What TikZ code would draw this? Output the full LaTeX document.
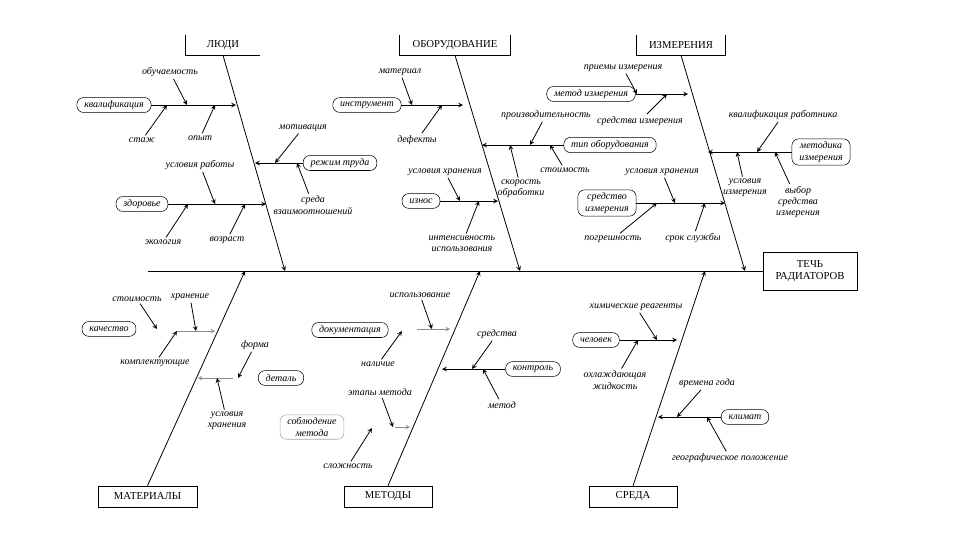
\documentclass[tikz,border=0pt]{standalone}
\usepackage{fontspec}
\setmainfont{Liberation Serif}
\tikzset{%
  bone/.style = {-stealth,line width=0.6pt},
  sub/.style = {-stealth,line width=0.6pt},
  faint/.style = {-stealth,line width=0.5pt,draw=black!45},
  cat/.style = {rectangle,inner sep=0pt,font=\fontsize{8}{9}\selectfont},
  f/.style = {rectangle,draw,rounded corners=5pt,inner xsep=5.5pt,inner ysep=2.2pt,
        minimum height=11pt,font=\fontsize{7.5}{8.5}\selectfont\itshape,align=center},
  l/.style = {inner sep=1.5pt,font=\fontsize{7.5}{8.5}\selectfont\itshape,align=center}
}
\begin{document}
\begin{tikzpicture}[x=0.75pt,y=-0.75pt]
\useasboundingbox (0,0) rectangle (960,540);

\node[cat,minimum width=55.5pt,minimum height=15pt] (ljudi) at (223,45) {ЛЮДИ};
\node[cat,minimum width=82.5pt,minimum height=15pt] (obor) at (455,45) {ОБОРУДОВАНИЕ};
\node[cat,minimum width=66pt,minimum height=15pt] (izm) at (681,45) {ИЗМЕРЕНИЯ};
\draw (ljudi.north west) -- (ljudi.south west) -- (ljudi.south east);
\draw (obor.north west) -- (obor.south west) -- (obor.south east) -- (obor.north east);
\draw (izm.north west) -- (izm.south west) -- (izm.south east) -- (izm.north east);
\node[cat,draw,minimum width=74pt,minimum height=15.75pt] (mat) at (147.5,496.5) {МАТЕРИАЛЫ};
\node[cat,draw,minimum width=66pt,minimum height=15.75pt] (met) at (388,496.5) {МЕТОДЫ};
\node[cat,draw,minimum width=66pt,minimum height=15.75pt] (sre) at (633,496.5) {СРЕДА};
\node[cat,draw,minimum width=70.5pt,minimum height=28.5pt,align=center] (rad) at (810,271) {ТЕЧЬ\\РАДИАТОРОВ};

\coordinate (tail) at (148,271);
\coordinate (s1) at (285,271);
\coordinate (s2) at (520,271);
\coordinate (s3) at (745,271);
\coordinate (s4) at (245,271);
\coordinate (s5) at (480,271);
\coordinate (s6) at (705,271);
\draw[line width=0.6pt] (tail) -- (rad.west);
\draw[bone] (ljudi.south) -- (s1);
\draw[bone] (obor.south) -- (s2);
\draw[bone] (izm.south) -- (s3);
\draw[bone] (mat.north) -- (s4);
\draw[bone] (met.north) -- (s5);
\draw[bone] (sre.north) -- (s6);

\node[f] (kval) at (114,105) {квалификация};
\node[f] (rezhim) at (340,163) {режим труда};
\node[f] (zdor) at (142,204) {здоровье};
\coordinate (b1a) at (236,105);
\coordinate (b1b) at (255,163);
\coordinate (b1c) at (266,204);
\draw[sub] (kval) -- (b1a);
\draw[sub] (rezhim) -- (b1b);
\draw[sub] (zdor) -- (b1c);
\node[l] (obuch) at (170,72) {обучаемость};
\node[l] (stazh) at (142,140) {стаж};
\node[l] (opyt) at (200,138) {опыт};
\node[l] (motiv) at (303,128) {мотивация};
\node[l] (sreda) at (313,205) {среда\\взаимоотношений};
\node[l] (uslrab) at (200,165) {условия работы};
\node[l] (ekol) at (163,242) {экология};
\node[l] (vozr) at (227,240) {возраст};
\coordinate (p1a) at (187,105);
\coordinate (p1b) at (167,105);
\coordinate (p1c) at (215,105);
\coordinate (p1d) at (275,163);
\coordinate (p1e) at (297,163);
\coordinate (p1f) at (215,204);
\coordinate (p1g) at (188,204);
\coordinate (p1h) at (245,204);
\draw[sub] (obuch) -- (p1a);
\draw[sub] (stazh) -- (p1b);
\draw[sub] (opyt) -- (p1c);
\draw[sub] (motiv) -- (p1d);
\draw[sub] (sreda) -- (p1e);
\draw[sub] (uslrab) -- (p1f);
\draw[sub] (ekol) -- (p1g);
\draw[sub] (vozr) -- (p1h);

\node[f] (instr) at (367,105) {инструмент};
\node[f] (tipob) at (610,145) {тип оборудования};
\node[f] (iznos) at (421,201) {износ};
\coordinate (b2a) at (463,105);
\coordinate (b2b) at (482,145);
\coordinate (b2c) at (498,201);
\draw[sub] (instr) -- (b2a);
\draw[sub] (tipob) -- (b2b);
\draw[sub] (iznos) -- (b2c);
\node[l] (mater) at (400,72) {материал};
\node[l] (defekt) at (417,140) {дефекты};
\node[l] (proizv) at (546,115) {производительность};
\node[l] (stoim) at (565,170) {стоимость};
\node[l] (skor) at (521,189) {скорость\\обработки};
\node[l] (uslhr) at (445,172) {условия хранения};
\node[l] (intens) at (462,244) {интенсивность\\использования};
\coordinate (p2a) at (412,105);
\coordinate (p2b) at (442,105);
\coordinate (p2c) at (530,145);
\coordinate (p2d) at (550,145);
\coordinate (p2e) at (510,145);
\coordinate (p2f) at (460,201);
\coordinate (p2g) at (479,201);
\draw[sub] (mater) -- (p2a);
\draw[sub] (defekt) -- (p2b);
\draw[sub] (proizv) -- (p2c);
\draw[sub] (stoim) -- (p2d);
\draw[sub] (skor) -- (p2e);
\draw[sub] (uslhr) -- (p2f);
\draw[sub] (intens) -- (p2g);

\node[f] (metizm) at (591,94) {метод измерения};
\node[f] (metodika) at (821,152) {методика\\измерения};
\node[f] (sredstvo) at (607,203) {средство\\измерения};
\coordinate (b3a) at (688,94);
\coordinate (b3b) at (708,152);
\coordinate (b3c) at (725,203);
\draw[sub] (metizm) -- (b3a);
\draw[sub] (metodika) -- (b3b);
\draw[sub] (sredstvo) -- (b3c);
\node[l] (priem) at (623,68) {приемы измерения};
\node[l] (sredizm) at (640,121) {средства измерения};
\node[l] (kvalrab) at (783,115) {квалификация работника};
\node[l] (uslizm) at (745,188) {условия\\измерения};
\node[l] (vybor) at (798,202) {выбор\\средства\\измерения};
\node[l] (uslhrb) at (662,172) {условия хранения};
\node[l] (pogr) at (613,239) {погрешность};
\node[l] (srok) at (693,238) {срок службы};
\coordinate (p3a) at (637,94);
\coordinate (p3b) at (667,94);
\coordinate (p3c) at (757,152);
\coordinate (p3d) at (737,152);
\coordinate (p3e) at (775,152);
\coordinate (p3f) at (675,203);
\coordinate (p3g) at (657,203);
\coordinate (p3h) at (705,203);
\draw[sub] (priem) -- (p3a);
\draw[sub] (sredizm) -- (p3b);
\draw[sub] (kvalrab) -- (p3c);
\draw[sub] (uslizm) -- (p3d);
\draw[sub] (vybor) -- (p3e);
\draw[sub] (uslhrb) -- (p3f);
\draw[sub] (pogr) -- (p3g);
\draw[sub] (srok) -- (p3h);

\node[f] (kach) at (109,329) {качество};
\node[f] (detal) at (281,378) {деталь};
\coordinate (m4s) at (177,331);
\coordinate (b4a) at (215,331);
\coordinate (m4t) at (233,378);
\coordinate (b4b) at (198,378);
\draw[faint] (m4s) -- (b4a);
\draw[faint] (m4t) -- (b4b);
\node[l] (stoimm) at (137,299) {стоимость};
\node[l] (hran) at (190,297) {хранение};
\node[l] (kompl) at (155,363) {комплектующие};
\node[l] (forma) at (255,345) {форма};
\node[l] (uslhrc) at (227,421) {условия\\хранения};
\coordinate (p4a) at (157,329);
\coordinate (p4b) at (196,331);
\coordinate (p4c) at (177,331);
\coordinate (p4d) at (238,378);
\coordinate (p4e) at (217,378);
\draw[sub] (stoimm) -- (p4a);
\draw[sub] (hran) -- (p4b);
\draw[sub] (kompl) -- (p4c);
\draw[sub] (forma) -- (p4d);
\draw[sub] (uslhrc) -- (p4e);

\node[f] (dokum) at (350,330) {документация};
\node[f] (kontr) at (533,369) {контроль};
\node[f,draw=black!35] (soblyud) at (312,427) {соблюдение\\метода};
\coordinate (m5s) at (417,329);
\coordinate (b5a) at (450,329);
\coordinate (b5b) at (442,369);
\coordinate (m5t) at (395,427);
\coordinate (b5c) at (410,427);
\draw[faint] (m5s) -- (b5a);
\draw[sub] (kontr) -- (b5b);
\draw[faint] (m5t) -- (b5c);
\node[l] (ispol) at (420,295) {использование};
\node[l] (nalich) at (378,364) {наличие};
\node[l] (sredstva) at (497,334) {средства};
\node[l] (metod) at (502,405) {метод};
\node[l] (etapy) at (380,392) {этапы метода};
\node[l] (slozh) at (348,466) {сложность};
\coordinate (p5a) at (432,329);
\coordinate (p5b) at (402,331);
\coordinate (p5c) at (472,369);
\coordinate (p5d) at (483,369);
\coordinate (p5e) at (393,427);
\coordinate (p5f) at (372,428);
\draw[sub] (ispol) -- (p5a);
\draw[sub] (nalich) -- (p5b);
\draw[sub] (sredstva) -- (p5c);
\draw[sub] (metod) -- (p5d);
\draw[sub] (etapy) -- (p5e);
\draw[sub] (slozh) -- (p5f);

\node[f] (chel) at (596,340) {человек};
\node[f] (klimat) at (745,417) {климат};
\coordinate (b6a) at (677,340);
\coordinate (b6b) at (658,417);
\draw[sub] (chel) -- (b6a);
\draw[sub] (klimat) -- (b6b);
\node[l] (khim) at (636,307) {химические реагенты};
\node[l] (okhl) at (615,380) {охлаждающая\\жидкость};
\node[l] (vremena) at (707,383) {времена года};
\node[l] (geogr) at (730,458) {географическое положение};
\coordinate (p6a) at (657,340);
\coordinate (p6b) at (638,340);
\coordinate (p6c) at (677,417);
\coordinate (p6d) at (707,417);
\draw[sub] (khim) -- (p6a);
\draw[sub] (okhl) -- (p6b);
\draw[sub] (vremena) -- (p6c);
\draw[sub] (geogr) -- (p6d);
\end{tikzpicture}
\end{document}
